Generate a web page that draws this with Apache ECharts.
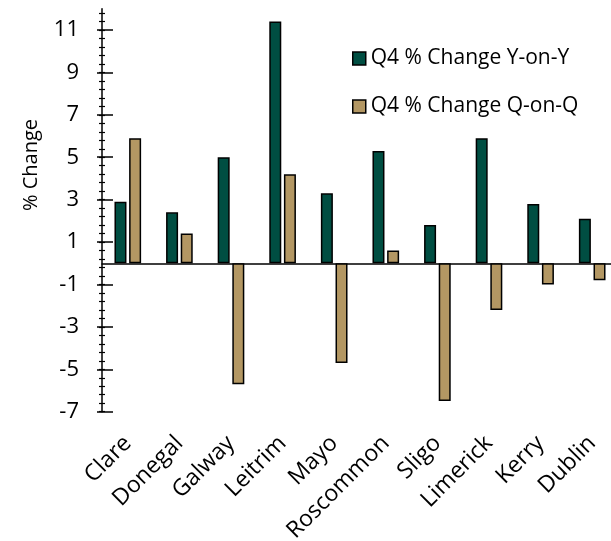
<!DOCTYPE html>
<html>
<head>
<meta charset="utf-8">
<script src="https://cdn.jsdelivr.net/npm/echarts@6/dist/echarts.min.js"></script>
<style>
  html, body { margin: 0; padding: 0; background: #fff; }
  #chart { width: 611px; height: 541px; }
</style>
</head>
<body>
<div id="chart"></div>
<script>
// Regional house price changes, Q4
const counties = ['Clare', 'Donegal', 'Galway', 'Leitrim', 'Mayo', 'Roscommon', 'Sligo', 'Limerick', 'Kerry', 'Dublin'];
const yearOnYear = [2.9, 2.4, 5.0, 11.4, 3.3, 5.3, 1.8, 5.9, 2.8, 2.1];
const quarterOnQuarter = [5.9, 1.4, -5.7, 4.2, -4.7, 0.6, -6.5, -2.2, -1.0, -0.8];
const majorTicks = [-7, -5, -3, -1, 1, 3, 5, 7, 9, 11];
const axisMin = -7;
const axisMax = 12;
const minorStep = 0.4;

const minorTicks = [];
for (let k = 0; axisMin + k * minorStep <= axisMax + 1e-9; k++) {
  minorTicks.push(Math.round((axisMin + k * minorStep) * 10) / 10);
}

const FONT = '"Open Sans", "Noto Sans", sans-serif';
const GREEN = '#004E42';
const TAN = '#B39763';
const INK = '#000000';

const chart = echarts.init(document.getElementById('chart'), null, { renderer: 'canvas' });

const baseY = {
  type: 'value',
  position: 'left',
  min: axisMin,
  max: axisMax,
  splitLine: { show: false },
  axisLine: { show: false },
  axisLabel: { show: false },
  axisTick: { show: false }
};

chart.setOption({
  animation: false,
  backgroundColor: '#ffffff',
  grid: {
    left: 102, right: -7, top: 8.8, bottom: 129.3,
    containLabel: false,
    outerBoundsMode: 'none'
  },
  legend: {
    orient: 'vertical',
    left: 352,
    top: 48,
    padding: 0,
    itemWidth: 13,
    itemHeight: 13,
    itemGap: 27,
    icon: 'rect',
    itemStyle: { borderColor: INK, borderWidth: 1.5 },
    textStyle: { fontFamily: FONT, fontSize: 21, color: '#000' },
    data: ['Q4 % Change Y-on-Y', 'Q4 % Change Q-on-Q']
  },
  graphic: [{
    type: 'text',
    x: 31,
    y: 165,
    rotation: Math.PI / 2,
    style: {
      text: '% Change',
      fontFamily: FONT,
      fontSize: 20,
      fill: '#000',
      align: 'center',
      verticalAlign: 'middle'
    }
  }],
  xAxis: [{
    type: 'category',
    data: counties,
    axisLine: { show: false, onZero: false },
    axisTick: { show: false },
    axisLabel: {
      rotate: 45,
      margin: 28,
      interval: 0,
      fontFamily: FONT,
      fontSize: 23,
      color: '#000'
    }
  }, {
    type: 'category',
    data: counties,
    axisLine: { show: true, onZero: true, lineStyle: { color: INK, width: 1.5 } },
    axisTick: { show: false },
    axisLabel: { show: false }
  }],
  yAxis: [
    Object.assign({}, baseY, {
      axisLine: { show: true, lineStyle: { color: INK, width: 1.5 } },
      axisLabel: {
        show: true,
        customValues: majorTicks,
        margin: 23,
        fontFamily: FONT,
        fontSize: 22,
        color: '#000'
      }
    }),
    Object.assign({}, baseY, {
      offset: -11,
      axisTick: { show: true, customValues: majorTicks, length: 16, inside: false, lineStyle: { color: INK, width: 1.5 } }
    }),
    Object.assign({}, baseY, {
      offset: -3,
      axisTick: { show: true, customValues: minorTicks, length: 6, inside: false, lineStyle: { color: INK, width: 1.2 } }
    })
  ],
  series: [{
    name: 'Q4 % Change Y-on-Y',
    type: 'bar',
    data: yearOnYear,
    barWidth: 12,
    barGap: '22%',
    itemStyle: { color: GREEN, borderColor: INK, borderWidth: 1.5 }
  }, {
    name: 'Q4 % Change Q-on-Q',
    type: 'bar',
    data: quarterOnQuarter,
    barWidth: 12,
    barGap: '22%',
    itemStyle: { color: TAN, borderColor: INK, borderWidth: 1.5 }
  }]
});
</script>
</body>
</html>
